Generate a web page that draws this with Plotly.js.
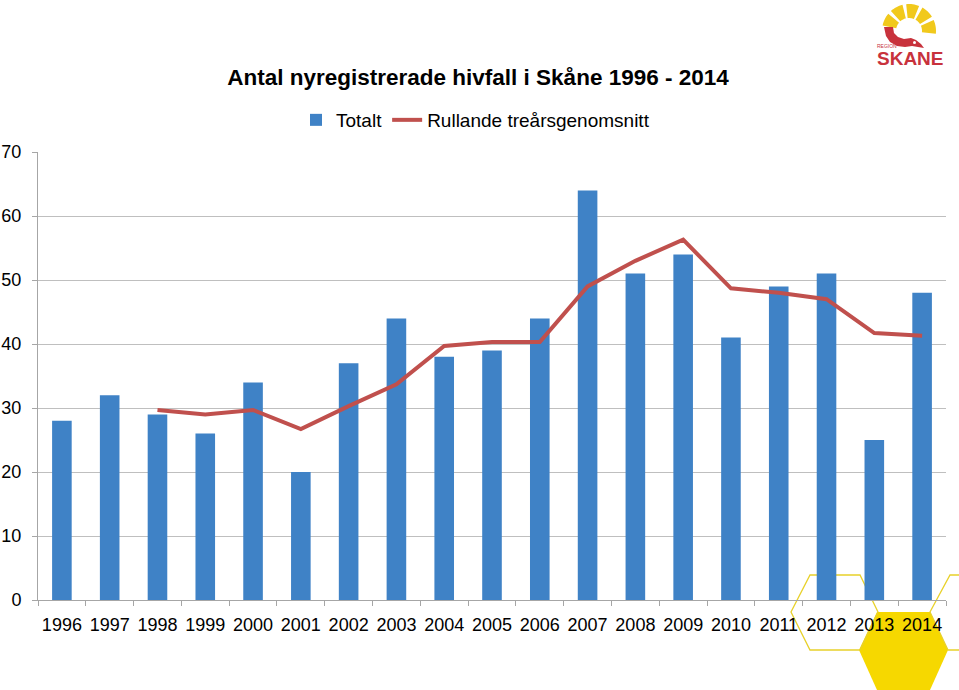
<!DOCTYPE html>
<html>
<head>
<meta charset="utf-8">
<script src="https://cdn.plot.ly/plotly-3.0.1.min.js"></script>
<style>body{margin:0;padding:0;background:#fff;} #chart{width:959px;height:690px;}</style>
</head>
<body>
<div id="chart"></div>
<script>
// ---- data ----
const years = ["1996","1997","1998","1999","2000","2001","2002","2003","2004","2005","2006","2007","2008","2009","2010","2011","2012","2013","2014"];
const totalt = [28,32,29,26,34,20,37,44,38,39,44,64,51,54,41,49,51,25,48];
const rullande = [null,null,29.7,29.0,29.7,26.7,30.3,33.7,39.7,40.3,40.3,49.0,53.0,56.3,48.7,48.0,47.0,41.7,41.3];
const yTicks = [0,10,20,30,40,50,60,70];

// ---- layout geometry (decoration helpers) ----
const W = 959, H = 690, ML = 38, MR = 13, MT = 152, MB = 90;
const PW = W - ML - MR, PH = H - MT - MB;
const px = x => (x - ML) / PW;
const py = y => (H - MB - y) / PH;
function poly(pts){ return 'M' + pts.map(p => px(p[0]).toFixed(5) + ',' + py(p[1]).toFixed(5)).join(' L') + ' Z'; }
function ringSeg(cx, cy, r0, r1, a0, a1){
  const pts = [], n = 8;
  for(let i=0;i<=n;i++){ const a=(a0+(a1-a0)*i/n)*Math.PI/180; pts.push([cx+r1*Math.cos(a), cy-r1*Math.sin(a)]); }
  for(let i=n;i>=0;i--){ const a=(a0+(a1-a0)*i/n)*Math.PI/180; pts.push([cx+r0*Math.cos(a), cy-r0*Math.sin(a)]); }
  return poly(pts);
}
const yellow = '#f6d800';
const shapes = [];
// honeycomb decoration bottom-right
shapes.push({type:'path', xref:'paper', yref:'paper', layer:'below', path: poly([[877,612],[930,612],[948,650],[930,690],[877,690],[859,650]]), fillcolor: yellow, line:{width:0}});
shapes.push({type:'path', xref:'paper', yref:'paper', layer:'below', path: poly([[810,575],[860,575],[878,612],[860,650],[810,650],[791,612]]), fillcolor:'rgba(0,0,0,0)', line:{color:'#e8d12a', width:1.3}});
shapes.push({type:'path', xref:'paper', yref:'paper', layer:'below', path: poly([[950,575],[1000,575],[1019,612],[1000,650],[948,650],[930,612]]), fillcolor:'rgba(0,0,0,0)', line:{color:'#e8d12a', width:1.3}});
// logo sun rays
[[168,140],[132,104],[96,68],[60,32],[24,-6]].forEach(a => {
  shapes.push({type:'path', xref:'paper', yref:'paper', layer:'above', path: ringSeg(909,31,13,27,a[0],a[1]), fillcolor:'#f1c91c', line:{width:0}});
});
// logo red hook
shapes.push({type:'path', xref:'paper', yref:'paper', layer:'above',
  path: poly([[884,27],[893,27],[894,33],[898,37],[904,39],[911,38],[916,40],[921,44],[924,48],[918,47],[912,46],[905,47],[897,46],[890,42],[886,36]]),
  fillcolor:'#c8323c', line:{width:0}});
shapes.push({type:'circle', xref:'paper', yref:'paper', layer:'above', x0:px(913), x1:px(916), y0:py(44), y1:py(41), fillcolor:'#ffffff', line:{width:0}});

const traces = [
  {type:'bar', name:'Totalt', x: years, y: totalt, marker:{color:'#3f82c6'}, hoverinfo:'x+y'},
  {type:'scatter', mode:'lines', name:'Rullande treårsgenomsnitt', x: years, y: rullande, line:{color:'#c0504d', width:4}, connectgaps:false}
];

const layout = {
  width: W, height: H,
  margin: {l: ML, r: MR, t: MT, b: MB, pad: 0},
  paper_bgcolor: '#ffffff', plot_bgcolor: 'rgba(0,0,0,0)',
  font: {family: '"Liberation Sans", Arial, sans-serif', color: '#000', size: 18},
  title: {text: '<b>Antal nyregistrerade hivfall i Skåne 1996 - 2014</b>', font: {size: 22.5, family: '"Liberation Sans", Arial, sans-serif', color:'#000'},
          x: 478/W, xanchor: 'center', xref: 'container', y: 1 - 77/H, yanchor: 'middle', yref: 'container'},
  showlegend: true,
  legend: {orientation: 'h', x: px(296), xanchor: 'left', y: py(120), yanchor: 'middle', font: {size: 19}, traceorder: 'normal', itemwidth: 30, bgcolor:'rgba(0,0,0,0)'},
  bargap: 0.59,
  xaxis: {type: 'category', tickson: 'boundaries', ticks: 'outside', ticklen: 5, tickcolor: '#a6a6a6', tickwidth: 1, tickangle: 0,
          showline: true, linecolor: '#a6a6a6', linewidth: 1, showgrid: false, tickfont: {size: 18}, ticklabelstandoff: 8, fixedrange: true},
  yaxis: {range: [0, 70], tickvals: yTicks, ticktext: yTicks.map(String), ticks: 'outside', ticklen: 5, tickcolor: '#a6a6a6',
          showline: true, linecolor: '#a6a6a6', linewidth: 1, showgrid: true, gridcolor: '#bfbfbf', gridwidth: 1, zeroline: false,
          tickfont: {size: 18}, ticklabelstandoff: 7, fixedrange: true},
  shapes: shapes,
  annotations: [
    {xref:'paper', yref:'paper', x: px(910), y: py(59), text:'<b>SKANE</b>', showarrow:false, font:{size:19, color:'#c8323c', family:'"Liberation Sans Narrow", "Liberation Sans", Arial, sans-serif'}, xanchor:'center', yanchor:'middle'},
    {xref:'paper', yref:'paper', x: px(875), y: py(46), text:'REGION', showarrow:false, font:{size:5, color:'#c8323c', family:'"Liberation Sans", Arial, sans-serif'}, xanchor:'left', yanchor:'middle'}
  ]
};

Plotly.newPlot('chart', traces, layout, {displayModeBar: false, staticPlot: true});
</script>
</body>
</html>
